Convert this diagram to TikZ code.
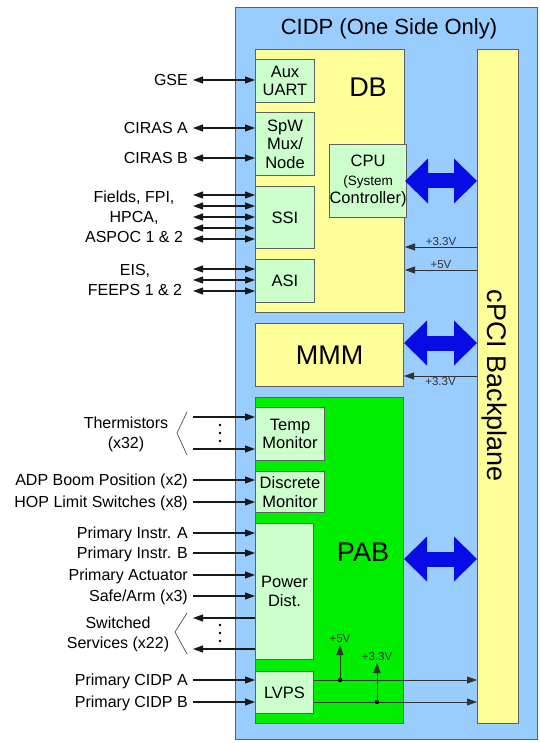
\documentclass[tikz,border=0pt]{standalone}
\usepackage{fontspec}
\setmainfont{Liberation Sans}
\usepackage{xcolor}
\usetikzlibrary{arrows.meta, positioning, calc}

\definecolor{cidpblue}{RGB}{153,204,255}
\definecolor{dbyellow}{RGB}{255,255,153}
\definecolor{cardgreen}{RGB}{204,255,204}
\definecolor{pabgreen}{RGB}{0,238,0}
\definecolor{busblue}{RGB}{8,12,228}
\definecolor{rimgray}{RGB}{95,95,95}

\begin{document}
\begin{tikzpicture}[x=1pt, y=-1pt, >={Triangle[length=10pt,width=7pt]},
  panel/.style={draw=rimgray, line width=1pt, inner sep=0pt, anchor=north west},
  card/.style={panel, fill=cardgreen, align=center, font=\fontsize{16.5}{18.5}\selectfont},
  ext/.style={inner sep=0pt, anchor=east, text height=11.6pt, text depth=0pt, font=\fontsize{16}{19}\selectfont},
  extgroup/.style={inner sep=0pt, align=center, font=\fontsize{16}{20}\selectfont},
  sig/.style={line width=1.1pt, black!90},
  pwr/.style={line width=0.9pt, black!80},
  pwrlabel/.style={inner sep=1pt, font=\fontsize{11.5}{13}\selectfont},
  bus/.style={line width=15pt, busblue, {Triangle[length=23pt,width=45pt,line width=0pt]}-{Triangle[length=23pt,width=45pt,line width=0pt]}},
  biglabel/.style={font=\fontsize{27}{30}\selectfont},
  fan/.style={line width=0.7pt, black!70}]
  \useasboundingbox (0,0) rectangle (539,743);

  % CIDP enclosure
  \node[panel, fill=cidpblue, minimum width=302, minimum height=732] (cidp) at (235,7) {};
  \node[font=\fontsize{22}{26}\selectfont] (cidptitle) at (389,29) {CIDP (One Side Only)};

  % cPCI backplane
  \node[panel, fill=dbyellow, minimum width=41, minimum height=674] (bp) at (477,49) {};
  \node[rotate=-90, font=\fontsize{27}{30}\selectfont] (bplabel) at (494,386) {cPCI Backplane};

  % DB card and its blocks
  \node[panel, fill=dbyellow, minimum width=149, minimum height=263] (db) at (255,49) {};
  \node[biglabel] (dblabel) at (368,87) {DB};
  \node[card, minimum width=59, minimum height=43] (aux) at (255,59) {Aux\\UART};
  \node[card, minimum width=59, minimum height=63] (spw) at (255,112) {SpW\\Mux/\\Node};
  \node[card, minimum width=59, minimum height=62] (ssi) at (255,186) {SSI};
  \node[card, minimum width=59, minimum height=43] (asi) at (255,259) {ASI};
  \node[card, minimum width=74, minimum height=73] (cpu) at (329,144)
    {CPU\\\fontsize{13.5}{16}\selectfont(System\\Controller)};

  % MMM card
  \node[panel, fill=dbyellow, minimum width=148, minimum height=63, biglabel] (mmm) at (255,323) {MMM};

  % PAB card and its blocks
  \node[panel, fill=pabgreen, minimum width=148, minimum height=326] (pab) at (255,397) {};
  \node[biglabel] (pablabel) at (363,552) {PAB};
  \node[card, minimum width=69, minimum height=53] (temp) at (255,407) {Temp\\Monitor};
  \node[card, minimum width=69, minimum height=41] (discrete) at (255,471) {Discrete\\Monitor};
  \node[card, minimum width=58, minimum height=136] (pwrdist) at (255,523) {Power\\Dist.};
  \node[card, minimum width=58, minimum height=42] (lvps) at (255,671) {LVPS};

  % backplane buses
  \draw[bus] (db.east |- cpu.east) -- (bp.west |- cpu.east);
  \draw[bus] (mmm.east |- 0,343) -- (bp.west |- 0,343);
  \draw[bus] (pab.east |- 0,559) -- (bp.west |- 0,559);

  % supply rails from backplane
  \draw[pwr,->] (bp.west |- 0,247) -- node[pwrlabel, above] (v33db) {+3.3V} (db.east |- 0,247);
  \draw[pwr,->] (bp.west |- 0,270) -- node[pwrlabel, above] (v5db) {+5V} (db.east |- 0,270);
  \draw[pwr,->] (bp.west |- 0,376) -- node[pwrlabel, below] (v33mmm) {+3.3V} (mmm.east |- 0,376);

  % external interfaces
  \node[ext] (gse) at (188,80) {GSE};
  \node[ext] (cirasa) at (188,128) {CIRAS A};
  \node[ext] (cirasb) at (188,158) {CIRAS B};
  \node[extgroup] (fields) at (134,217) {Fields, FPI,\\HPCA,\\ASPOC 1 \& 2};
  \node[extgroup] (eis) at (135,280) {EIS,\\FEEPS 1 \& 2};
  \node[extgroup] (therm) at (126,434) {Thermistors\\(x32)};
  \node[ext] (adp) at (188,480) {ADP Boom Position (x2)};
  \node[ext] (hop) at (188,502) {HOP Limit Switches (x8)};
  \node[ext] (instra) at (188,533) {Primary Instr. A};
  \node[ext] (instrb) at (188,553) {Primary Instr. B};
  \node[ext] (actuator) at (188,575) {Primary Actuator};
  \node[ext] (safearm) at (188,596) {Safe/Arm (x3)};
  \node[extgroup] (switched) at (118,634) {Switched\\Services (x22)};
  \node[ext] (cidpa) at (188,680) {Primary CIDP A};
  \node[ext] (cidpb) at (188,702) {Primary CIDP B};

  \coordinate (fieldsfan) at (193,217);
  \coordinate (eisfan) at (193,280);
  \coordinate (thermfan) at (193,433);
  \coordinate (switchfan) at (193,633);

  % DB links
  \draw[sig,<->] ([xshift=5pt]gse.east) -- (gse.east -| aux.west);
  \draw[sig,<->] ([xshift=5pt]cirasa.east) -- (cirasa.east -| spw.west);
  \draw[sig,<->] ([xshift=5pt]cirasb.east) -- (cirasb.east -| spw.west);
  \foreach \dy in {-22,-11,0,11,22}
    \draw[sig,<->] (fieldsfan) ++(0,\dy) coordinate (p) -- (p -| ssi.west);
  \foreach \dy in {-11,0,11}
    \draw[sig,<->] (eisfan) ++(0,\dy) coordinate (p) -- (p -| asi.west);

  % PAB links
  \draw[fan] (thermfan) ++(-6,-21) -- ++(-10,21) -- ++(10,22);
  \foreach \dy in {-16,16}
    \draw[sig,->] (thermfan) ++(0,\dy) coordinate (p) -- (p -| temp.west);
  \foreach \dy in {-8,0,8}
    \fill (220,433) ++(0,\dy) circle (1.4);
  \draw[sig,->] ([xshift=5pt]adp.east) -- (adp.east -| discrete.west);
  \draw[sig,->] ([xshift=5pt]hop.east) -- (hop.east -| discrete.west);
  \draw[sig,->] ([xshift=5pt]instra.east) -- (instra.east -| pwrdist.west);
  \draw[sig,->] ([xshift=5pt]instrb.east) -- (instrb.east -| pwrdist.west);
  \draw[sig,->] ([xshift=5pt]actuator.east) -- (actuator.east -| pwrdist.west);
  \draw[sig,->] ([xshift=5pt]safearm.east) -- (safearm.east -| pwrdist.west);
  \draw[fan] (switchfan) ++(-6,-20) -- ++(-12,19) -- ++(12,22);
  \foreach \dy in {-15,16}
    \draw[sig,<-] (switchfan) ++(0,\dy) coordinate (p) -- (p -| pwrdist.west);
  \foreach \dy in {-8,0,8}
    \fill (220,633) ++(0,\dy) circle (1.4);

  % LVPS in and out
  \draw[sig,->] ([xshift=5pt]cidpa.east) -- (cidpa.east -| lvps.west);
  \draw[sig,->] ([xshift=5pt]cidpb.east) -- (cidpb.east -| lvps.west);
  \draw[pwr,->] (cidpa.east -| lvps.east) -- (cidpa.east -| bp.west);
  \draw[pwr,->] (cidpb.east -| lvps.east) -- (cidpb.east -| bp.west);
  \coordinate (tap5) at (340,680);
  \coordinate (tap33) at (377,702);
  \fill (tap5) circle (2.2);
  \fill (tap33) circle (2.2);
  \draw[pwr,->] (tap5) -- ++(0,-35) node[pwrlabel, above=1pt] (v5lv) {+5V};
  \draw[pwr,->] (tap33) -- ++(0,-39) node[pwrlabel, above=1pt] (v33lv) {+3.3V};
\end{tikzpicture}
\end{document}
